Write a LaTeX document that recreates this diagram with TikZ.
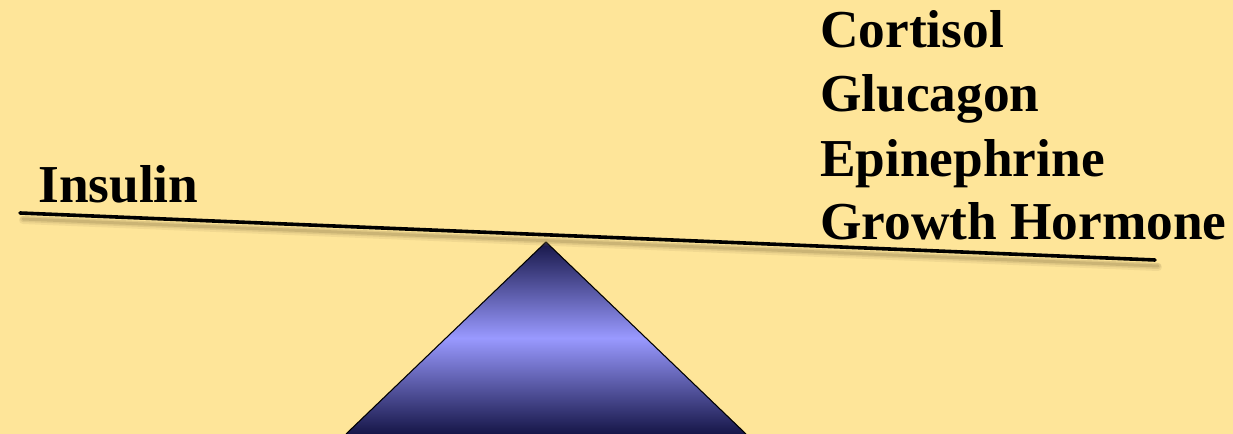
\documentclass[tikz,border=0pt]{standalone}
\usepackage{fontspec}
\setmainfont{Liberation Serif}
\usetikzlibrary{shadings}
\definecolor{bg}{RGB}{254,229,153}
\definecolor{navy}{RGB}{22,22,72}
\definecolor{lilac}{RGB}{153,153,255}
\definecolor{shadowc}{RGB}{150,130,80}
\tikzset{
  lbl/.style={font=\bfseries\fontsize{40}{48}\selectfont, inner sep=0pt, anchor=base west, text=black},
  beam/.style={line width=2.7pt, black, line cap=round},
}
\begin{document}
\begin{tikzpicture}[x=0.75pt,y=-0.75pt]
\fill[bg] (0,0) rectangle (1233,434);
\useasboundingbox (0,0) rectangle (1233,434);
% triangle fulcrum
\coordinate (apex) at (546,242);
\coordinate (bl) at (346,434);
\coordinate (br) at (746,434);
\shade[top color=navy, bottom color=navy, middle color=lilac, shading angle=0]
  (apex) -- (bl) -- (br) -- cycle;
\draw[line width=0.8pt, black, line join=round] (bl) -- (apex) -- (br);
% beam with soft shadow
\coordinate (b1) at (20,213);
\coordinate (b2) at (1155,260);
\foreach \o/\w/\op in {7/8/0.12, 6/6/0.18, 6/3/0.28} {
  \draw[line width=\w*0.75pt, shadowc, opacity=\op, line cap=round]
    ([shift={(3,\o)}]b1) -- ([shift={(3,\o)}]b2);
}
\draw[beam] (b1) -- (b2);
% labels
\node[lbl] (ins) at (38,203) {Insulin};
\node[lbl] (cort) at (820,48) {Cortisol};
\node[lbl] (gluc) at (820,112) {Glucagon};
\node[lbl] (epi) at (820,177) {Epinephrine};
\node[lbl] (gh) at (820,240) {Growth Hormone};
\end{tikzpicture}
\end{document}
